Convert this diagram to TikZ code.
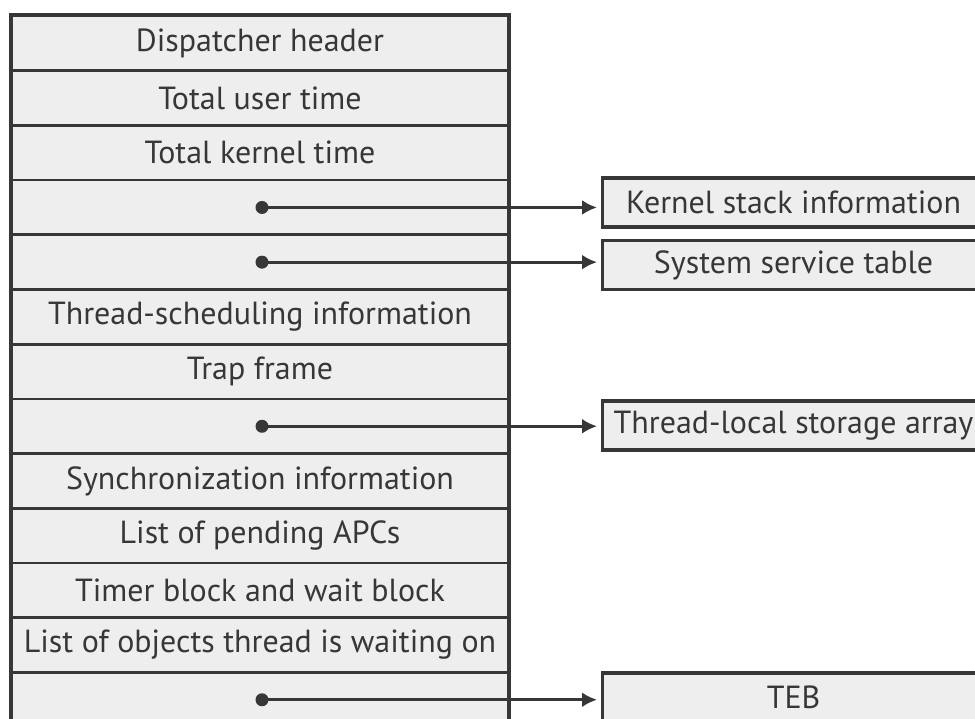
\documentclass[tikz,border=0pt]{standalone}
\usepackage{fontspec}
\setmainfont{PT Sans}
\usetikzlibrary{arrows.meta,positioning,calc}
\definecolor{trait}{RGB}{55,55,55}
\definecolor{fond}{RGB}{238,238,238}

\begin{document}
\begin{tikzpicture}[x=0.02cm,y=-0.02cm,
    champ/.style={draw=trait,line width=1.5pt,fill=fond,minimum width=9.92cm,
                  minimum height=1.094cm,inner sep=0pt,text=trait,
                  font=\fontsize{18.2}{20}\selectfont},
    cible/.style={champ,anchor=west,minimum width=7.64cm,minimum height=0.98cm,
                  line width=1.8pt},
    pt/.style={circle,fill=trait,inner sep=0pt,minimum size=0.26cm},
    fleche/.style={draw=trait,line width=1.6pt,-{Latex[length=0.3cm,width=0.3cm]},
                   shorten >=0.08cm}]
  \clip (0,0) rectangle (975,718);
  % champs du bloc de thread
  \foreach \lab [count=\i] in {Dispatcher header,Total user time,Total kernel time,{},{},
      Thread-scheduling information,Trap frame,{},Synchronization information,
      List of pending APCs,Timer block and wait block,List of objects thread is waiting on,{}}{
    \node[champ] (r\i) at (260,{16+54.7*(\i-0.5)}) {\lab};
  }
  \draw[trait,line width=2pt] (r1.north west) rectangle (r13.south east);
  % structures pointees
  \node[cible] (ks)  at (601,202.5) {Kernel stack information};
  \node[cible] (sst) at (601,265)   {System service table};
  \node[cible] (tls) at (601,425.5) {Thread-local storage array};
  \node[cible] (teb) at (601,697.5) {TEB};
  % pointeurs
  \foreach \r/\c in {4/ks,5/sst,8/tls,13/teb}{
    \node[pt] (d\r) at ([xshift=0.04cm]r\r.center) {};
    \draw[fleche] (d\r.center) -- (d\r.center -| \c.west);
  }
\end{tikzpicture}
\end{document}
